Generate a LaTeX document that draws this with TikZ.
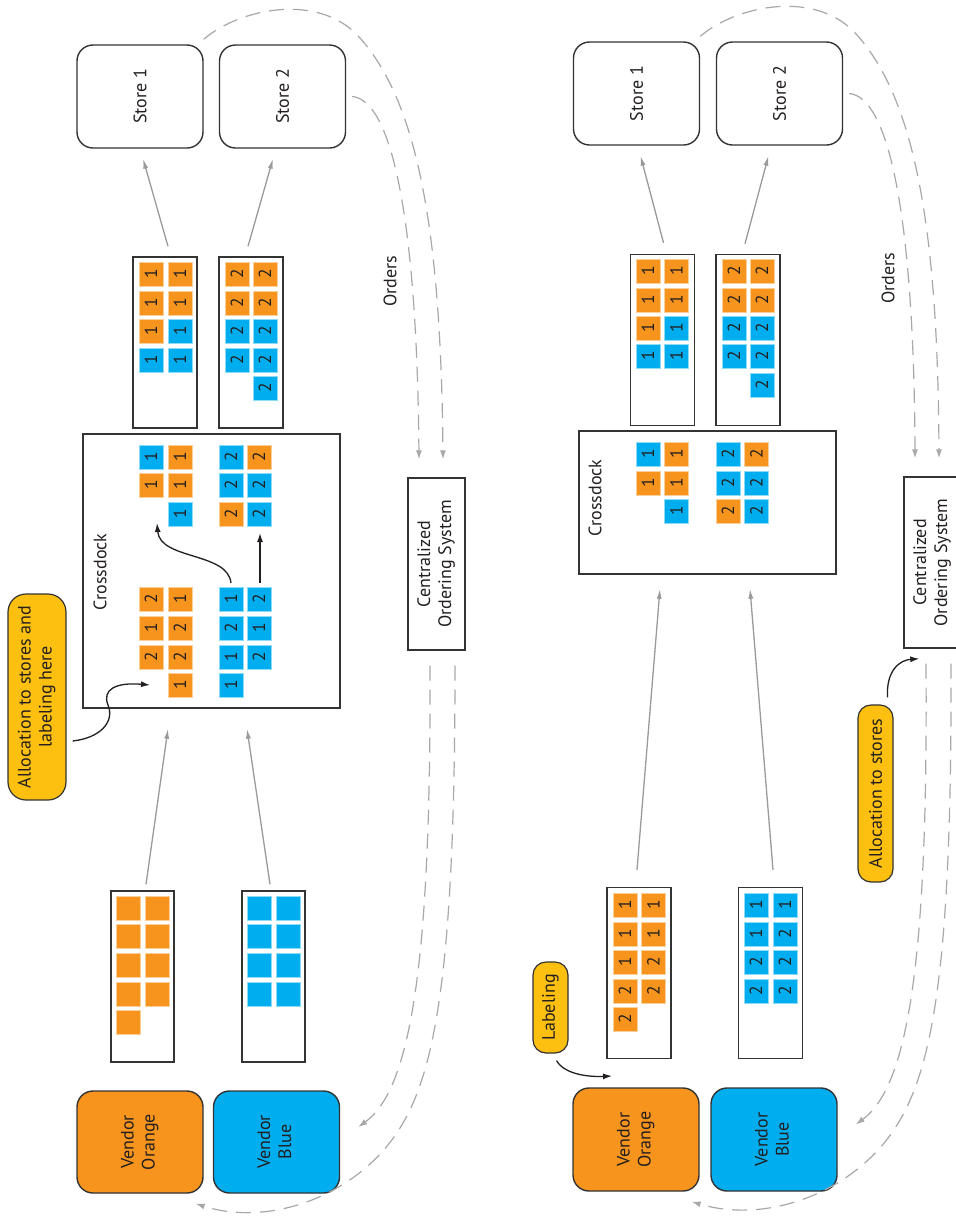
\documentclass[tikz,border=0pt]{standalone}
\usepackage{fontspec}
\setmainfont{PT Sans}
\usetikzlibrary{arrows.meta,calc}
\definecolor{org}{HTML}{F7941D}
\definecolor{blu}{HTML}{00AEEF}
\definecolor{ylw}{HTML}{FDC010}
\definecolor{txt}{HTML}{231F20}
\definecolor{edge}{HTML}{333333}
\definecolor{gry}{HTML}{9A9A9A}
\definecolor{dgry}{HTML}{A8A8A8}
\newcounter{sqc}
\newcommand\sq[4]{\stepcounter{sqc}\node[#3sq] (q\arabic{sqc}) at (#1,#2) {\rotatebox{90}{#4}};}
\newcommand\rtxt[1]{\rotatebox{90}{\begin{tabular}{@{}c@{}}#1\end{tabular}}}
\tikzset{
  every node/.style={text=txt, font=\fontsize{18}{21}\selectfont},
  sqr/.style={minimum size=24pt, inner sep=0pt, line width=0.7pt, font=\fontsize{17.5}{17.5}\selectfont},
  osq/.style={sqr, fill=org, draw=org!45!white},
  bsq/.style={sqr, fill=blu, draw=blu!45!white},
  storebox/.style={draw=edge, line width=1.4pt, rounded corners=16pt, inner sep=0pt, minimum width=126pt, minimum height=103pt},
  pallet/.style={draw=edge, line width=1.4pt, inner sep=0pt, minimum width=64pt, minimum height=171pt},
  plain/.style={draw=edge, line width=1.4pt, inner sep=0pt},
  callout/.style={draw=edge, fill=ylw, line width=1.2pt, inner sep=0pt},
  garr/.style={draw=gry, line width=1.3pt, -{Latex[length=10pt,width=5pt]}},
  barr/.style={draw=txt, line width=1.3pt, -{Latex[length=9pt,width=6pt]}},
  dsh/.style={draw=dgry, line width=1.2pt, dash pattern=on 15pt off 9pt, -{Latex[length=9pt,width=6pt]}},
}
\begin{document}
\begin{tikzpicture}[x=1pt,y=-1pt]
\fill[white] (0,0) rectangle (956,1219);
\useasboundingbox (0,0) rectangle (956,1219);

%%%%%%%%%%%%%%%% LEFT PANEL %%%%%%%%%%%%%%%%
\node[storebox] (s1L) at (140,96.5) {\rotatebox{90}{Store 1}};
\node[storebox] (s2L) at (282.5,96.5) {\rotatebox{90}{Store 2}};
\node[pallet] (sp1L) at (165,342.5) {};
\node[pallet] (sp2L) at (251,342.5) {};
% store 1 pallet
\sq{151}{274}{o}{1}\sq{180}{274}{o}{1}
\sq{151}{303}{o}{1}\sq{180}{303}{o}{1}
\sq{151}{331}{o}{1}\sq{180}{331}{b}{1}
\sq{151}{360}{b}{1}\sq{180}{360}{b}{1}
% store 2 pallet
\sq{237}{274}{o}{2}\sq{265}{274}{o}{2}
\sq{237}{303}{o}{2}\sq{265}{303}{o}{2}
\sq{237}{331}{b}{2}\sq{265}{331}{b}{2}
\sq{237}{360}{b}{2}\sq{265}{360}{b}{2}
\sq{265}{388}{b}{2}
% crossdock
\node[plain, minimum width=257pt, minimum height=274pt] (cdL) at (211.5,571) {};
\node (cdLlab) at (100,572) {\rotatebox{90}{Crossdock}};
\sq{151}{457}{b}{1}\sq{180}{457}{o}{1}
\sq{151}{485}{o}{1}\sq{180}{485}{o}{1}
\sq{180}{514}{b}{1}
\sq{231}{457}{b}{2}\sq{259}{457}{o}{2}
\sq{231}{485}{b}{2}\sq{259}{485}{b}{2}
\sq{231}{514}{o}{2}\sq{259}{514}{b}{2}
\sq{151}{599}{o}{2}\sq{180}{599}{o}{1}
\sq{151}{628}{o}{1}\sq{180}{628}{o}{2}
\sq{151}{657}{o}{2}\sq{180}{657}{o}{2}
\sq{180}{685}{o}{1}
\sq{231}{599}{b}{1}\sq{259}{599}{b}{2}
\sq{231}{628}{b}{2}\sq{259}{628}{b}{1}
\sq{231}{657}{b}{1}\sq{259}{657}{b}{2}
\sq{231}{685}{b}{1}
\coordinate (aL1) at (231,583);
\coordinate (aL2) at (157,523);
\coordinate (aL3) at (260,583);
\coordinate (aL4) at (260,533);
\draw[barr] (aL1) .. controls (228,552) and (160,560) .. (aL2);
\draw[barr] (aL3) -- (aL4);
% vendor pallets
\node[pallet, minimum width=63pt] (vpoL) at (142.5,976.5) {};
\node[pallet, minimum width=63pt] (vpbL) at (273.5,976.5) {};
\foreach \r in {908,936,965,994}{\sq{128}{\r}{o}{}\sq{157}{\r}{o}{}\sq{259.5}{\r}{b}{}\sq{288}{\r}{b}{}}
\sq{128}{1022}{o}{}
% vendors
\node[storebox, fill=org, minimum height=102pt] (voL) at (140,1142) {\rtxt{Vendor\\Orange}};
\node[storebox, fill=blu, minimum height=102pt] (vbL) at (276.5,1142) {\rtxt{Vendor\\Blue}};
% ordering system
\node[plain, minimum width=57pt, minimum height=172pt] (coL) at (436.5,564) {\rtxt{Centralized\\Ordering System}};
\node (ordL) at (390,281) {\rotatebox{90}{Orders}};
% callout
\node[callout, rounded corners=18pt, minimum width=58pt, minimum height=206pt] (calL) at (37,697) {\rtxt{Allocation to stores and\\labeling here}};
\coordinate (cL) at (150,685);
\draw[barr] ($(calL.east)+(6,44)$) .. controls (100,738) and (115,722) .. (108,705) .. controls (102,690) and (115,682) .. (cL);
% grey arrows
\draw[garr] ($(vpoL.north)+(3.5,-6)$) -- ($(cdL.south)+(-43.5,20)$);
\draw[garr] ($(vpbL.north)+(-3.5,-6)$) -- ($(cdL.south)+(35.5,20)$);
\draw[garr] ($(sp1L.north)+(3,-10)$) -- ($(s1L.south)+(3,10)$);
\draw[garr] ($(sp2L.north)+(-3,-10)$) -- ($(s2L.south)+(-9.5,10)$);
% dashed order flows
\draw[dsh] ($(s1L.north east)+(0,-5)$) .. controls (240,8) and (320,-8) .. (360,38) .. controls (415,100) and (441,220) .. ($(coL.north)+(6.5,-18)$);
\draw[dsh] ($(s2L.east)+(6,0)$) .. controls (392,100) and (417,220) .. ($(coL.north)+(-17.5,-18)$);
\draw[dsh] ($(coL.south)+(-6.5,15)$) .. controls (431,950) and (413,1088) .. ($(vbL.east)+(18,-15)$);
\draw[dsh] ($(coL.south)+(18.5,15)$) .. controls (455,950) and (438,1063) .. (403,1123) .. controls (363,1193) and (273,1228) .. ($(voL.south east)+(-8,10)$);

%%%%%%%%%%%%%%%% RIGHT PANEL %%%%%%%%%%%%%%%%
\node[storebox] (s1R) at (636.5,93.5) {\rotatebox{90}{Store 1}};
\node[storebox] (s2R) at (779.5,93.5) {\rotatebox{90}{Store 2}};
\node[pallet] (sp1R) at (662.5,340) {};
\node[pallet] (sp2R) at (748,340) {};
\sq{648}{271}{o}{1}\sq{676.5}{271}{o}{1}
\sq{648}{300}{o}{1}\sq{676.5}{300}{o}{1}
\sq{648}{328}{o}{1}\sq{676.5}{328}{b}{1}
\sq{648}{356}{b}{1}\sq{676.5}{356}{b}{1}
\sq{734}{271}{o}{2}\sq{762}{271}{o}{2}
\sq{734}{300}{o}{2}\sq{762}{300}{o}{2}
\sq{734}{328}{b}{2}\sq{762}{328}{b}{2}
\sq{734}{356}{b}{2}\sq{762}{356}{b}{2}
\sq{762}{385}{b}{2}
% crossdock
\node[plain, minimum width=257pt, minimum height=143pt] (cdR) at (707.5,502.5) {};
\node (cdRlab) at (595,498) {\rotatebox{90}{Crossdock}};
\sq{648}{454}{b}{1}\sq{676.5}{454}{o}{1}
\sq{648}{483}{o}{1}\sq{676.5}{483}{o}{1}
\sq{676.5}{511}{b}{1}
\sq{728}{454}{b}{2}\sq{756.5}{454}{o}{2}
\sq{728}{483}{b}{2}\sq{756.5}{483}{b}{2}
\sq{728}{511}{o}{2}\sq{756.5}{511}{b}{2}
% vendor pallets
\node[pallet] (vpoR) at (639,973) {};
\node[pallet] (vpbR) at (770.5,973) {};
\sq{625}{905}{o}{1}\sq{653.5}{905}{o}{1}
\sq{625}{934}{o}{1}\sq{653.5}{934}{o}{1}
\sq{625}{962}{o}{1}\sq{653.5}{962}{o}{2}
\sq{625}{991}{o}{2}\sq{653.5}{991}{o}{2}
\sq{625}{1019}{o}{2}
\sq{756}{905}{b}{1}\sq{785}{905}{b}{1}
\sq{756}{934}{b}{1}\sq{785}{934}{b}{2}
\sq{756}{962}{b}{2}\sq{785}{962}{b}{2}
\sq{756}{991}{b}{2}\sq{785}{991}{b}{2}
% vendors
\node[storebox, fill=org] (voR) at (636,1139.5) {\rtxt{Vendor\\Orange}};
\node[storebox, fill=blu] (vbR) at (774,1139.5) {\rtxt{Vendor\\Blue}};
% ordering system
\node[plain, minimum width=57pt, minimum height=171pt] (coR) at (932.5,562.5) {\rtxt{Centralized\\Ordering System}};
\node (ordR) at (888,278) {\rotatebox{90}{Orders}};
% callouts
\node[callout, rounded corners=13pt, minimum width=35pt, minimum height=177pt] (calR) at (875.5,793.5) {\rotatebox{90}{Allocation to stores}};
\node[callout, rounded corners=13pt, minimum width=35pt, minimum height=91pt] (labR) at (550.5,1007.5) {\rotatebox{90}{Labeling}};
\coordinate (cR) at ($(coR.south west)+(16,10)$);
\draw[barr] ($(calR.north)+(12,-7)$) .. controls (886,670) and (900,660) .. (cR);
\coordinate (lR) at (612,1076);
\draw[barr] ($(labR.south)+(6,7)$) .. controls (565,1075) and (590,1077) .. (lR);
% grey arrows
\draw[garr] ($(vpoR.north)+(-2,-17)$) -- ($(cdR.south)+(-47.5,14)$);
\draw[garr] ($(vpbR.north)+(2.5,-17)$) -- ($(cdR.south)+(42.5,14)$);
\draw[garr] ($(sp1R.north)+(1,-11)$) -- ($(s1R.south)+(4,10)$);
\draw[garr] ($(sp2R.north)+(-3,-10)$) -- ($(s2R.south)+(-11,10)$);
% dashed order flows
\draw[dsh] ($(s1R.north east)+(0,-5)$) .. controls (737,5) and (817,-11) .. (857,35) .. controls (912,97) and (938,217) .. ($(coR.north)+(6.5,-18)$);
\draw[dsh] ($(s2R.east)+(6,0)$) .. controls (889,97) and (914,217) .. ($(coR.north)+(-17.5,-18)$);
\draw[dsh] ($(coR.south)+(-6.5,15)$) .. controls (928,950) and (910,1085) .. ($(vbR.east)+(18,-15)$);
\draw[dsh] ($(coR.south)+(18.5,15)$) .. controls (952,950) and (935,1060) .. (900,1120) .. controls (860,1190) and (770,1225) .. ($(voR.south east)+(-8,10)$);
\end{tikzpicture}
\end{document}
